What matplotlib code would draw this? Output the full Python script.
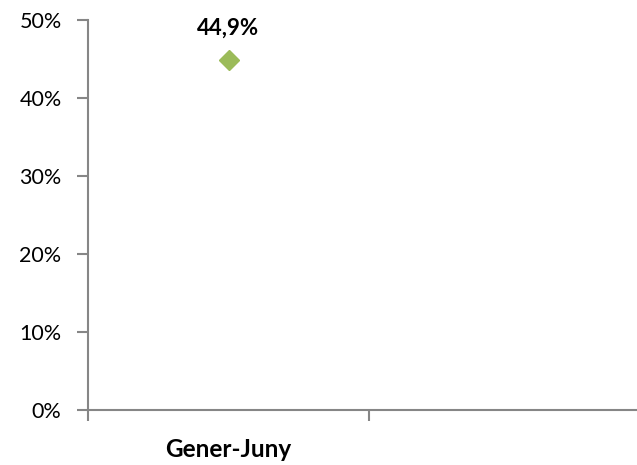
import matplotlib
matplotlib.use("Agg")
import matplotlib.pyplot as plt
from matplotlib.ticker import FixedLocator, FuncFormatter

categories = ["Gener-Juny", ""]
values = [44.9]
labels = ["44,9%"]
yticks = [0, 10, 20, 30, 40, 50]

plt.rcParams['font.family'] = ['Lato', 'DejaVu Sans']

fig = plt.figure(figsize=(6.37, 4.65), dpi=100)
ax = fig.add_axes([88/637, 1-410/465, (650-88)/637, (410-20)/465])

xs = list(range(len(values)))
ax.plot(xs, values, linestyle='none', marker='D', markersize=10,
        color='#9BBB59', markeredgecolor='#9BBB59')
for x, v, lab in zip(xs, values, labels):
    ax.annotate(lab, (x, v), xytext=(0, 15), textcoords='offset points',
                ha='center', va='bottom', fontsize=16, fontweight='bold')

ax.set_xlim(-0.5, len(categories) - 0.5)
ax.set_ylim(0, 50)
ax.set_yticks(yticks)
ax.yaxis.set_major_formatter(FuncFormatter(lambda v, p: f"{int(v)}%"))

ax.xaxis.set_major_locator(FixedLocator([i - 0.5 for i in range(len(categories) + 1)]))
ax.xaxis.set_major_formatter(FuncFormatter(lambda v, p: ""))
ax.xaxis.set_minor_locator(FixedLocator(list(range(len(categories)))))
ax.set_xticklabels(categories, minor=True)
ax.tick_params(axis='x', which='minor', length=0, pad=20, labelsize=17.5)
for t in ax.get_xticklabels(minor=True):
    t.set_fontweight('bold')
ax.tick_params(axis='x', which='major', length=8, color='#868686', width=1.5)
ax.tick_params(axis='y', length=8, color='#868686', width=1.5, labelsize=15.5, pad=11)

for s in ['top', 'right']:
    ax.spines[s].set_visible(False)
for s in ['left', 'bottom']:
    ax.spines[s].set_color('#868686')
    ax.spines[s].set_linewidth(1.5)

fig.savefig("out.png", dpi=100)
